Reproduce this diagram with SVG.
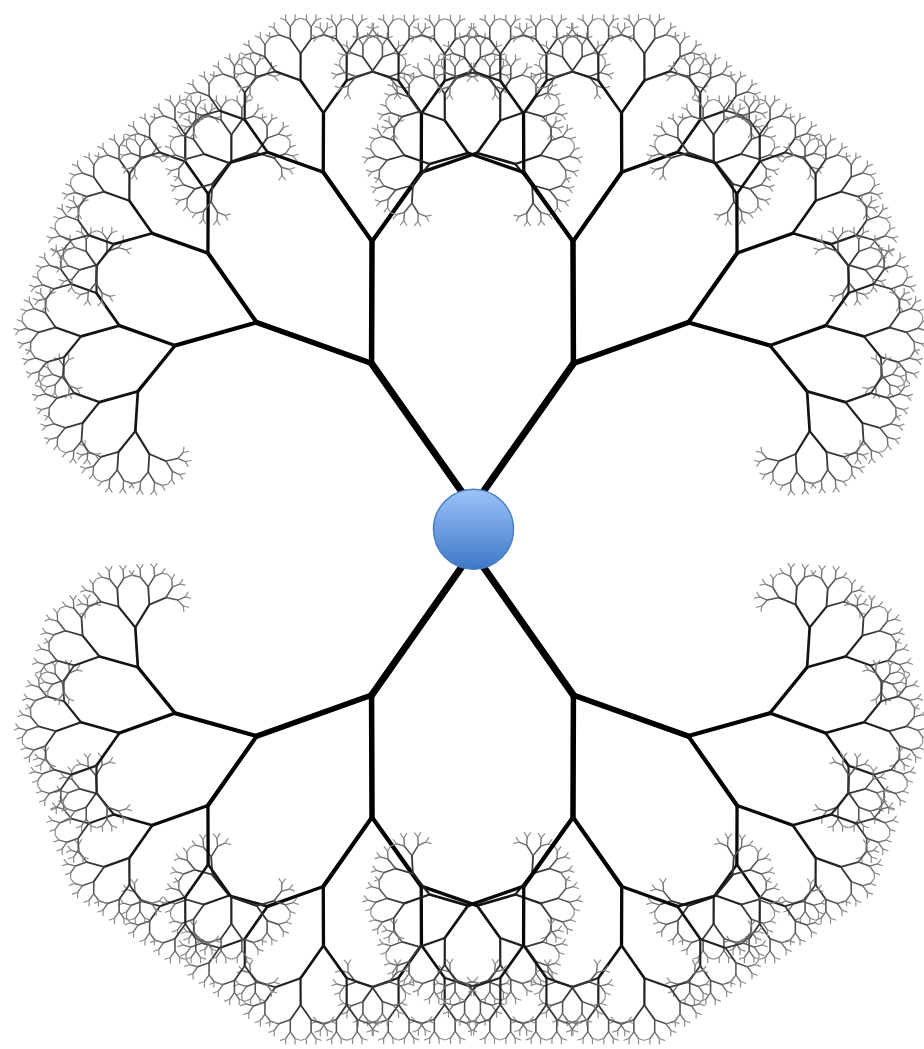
<svg xmlns="http://www.w3.org/2000/svg" xmlns:xlink="http://www.w3.org/1999/xlink" width="924" height="1049" viewBox="0 0 924 1049">
<style>
line{vector-effect:non-scaling-stroke;stroke-linecap:round;fill:none}
.s1{stroke:#000;stroke-width:7}
.s2{stroke:#000;stroke-width:5.5}
.s3{stroke:#000;stroke-width:4.2}
.s4{stroke:#080808;stroke-width:3.3}
.s5{stroke:#121212;stroke-width:2.7}
.s6{stroke:#222;stroke-width:2.2}
.s7{stroke:#383838;stroke-width:1.8}
.s8{stroke:#525252;stroke-width:1.55}
.s9{stroke:#6e6e6e;stroke-width:1.35}
.s10{stroke:#8c8c8c;stroke-width:1.2}
</style>
<defs>
<linearGradient id="ballGrad" x1="0" y1="0" x2="0" y2="1">
<stop offset="0" stop-color="#9cc3fb"/>
<stop offset="1" stop-color="#3d78c6"/>
</linearGradient>
<g id="b10"><line class="s10" x1="0" y1="0" x2="0" y2="-100"/></g>
<g id="b9"><line class="s9" x1="0" y1="0" x2="0" y2="-100"/><use xlink:href="#b10" transform="translate(0,-100) rotate(-35.3) scale(0.672)"/><use xlink:href="#b10" transform="translate(0,-100) rotate(35.3) scale(0.672)"/></g>
<g id="b8"><line class="s8" x1="0" y1="0" x2="0" y2="-100"/><use xlink:href="#b9" transform="translate(0,-100) rotate(-35.3) scale(0.672)"/><use xlink:href="#b9" transform="translate(0,-100) rotate(35.3) scale(0.672)"/></g>
<g id="b7"><line class="s7" x1="0" y1="0" x2="0" y2="-100"/><use xlink:href="#b8" transform="translate(0,-100) rotate(-35.3) scale(0.672)"/><use xlink:href="#b8" transform="translate(0,-100) rotate(35.3) scale(0.672)"/></g>
<g id="b6"><line class="s6" x1="0" y1="0" x2="0" y2="-100"/><use xlink:href="#b7" transform="translate(0,-100) rotate(-35.3) scale(0.672)"/><use xlink:href="#b7" transform="translate(0,-100) rotate(35.3) scale(0.672)"/></g>
<g id="b5"><line class="s5" x1="0" y1="0" x2="0" y2="-100"/><use xlink:href="#b6" transform="translate(0,-100) rotate(-35.3) scale(0.672)"/><use xlink:href="#b6" transform="translate(0,-100) rotate(35.3) scale(0.672)"/></g>
<g id="b4"><line class="s4" x1="0" y1="0" x2="0" y2="-100"/><use xlink:href="#b5" transform="translate(0,-100) rotate(-35.3) scale(0.675)"/><use xlink:href="#b5" transform="translate(0,-100) rotate(35.3) scale(0.675)"/></g>
<g id="b3"><line class="s3" x1="0" y1="0" x2="0" y2="-100"/><use xlink:href="#b4" transform="translate(0,-100) rotate(-35.3) scale(0.697)"/><use xlink:href="#b4" transform="translate(0,-100) rotate(35.3) scale(0.697)"/></g>
<g id="b2"><line class="s2" x1="0" y1="0" x2="0" y2="-100"/><use xlink:href="#b3" transform="translate(0,-100) rotate(-35.3) scale(0.695)"/><use xlink:href="#b3" transform="translate(0,-100) rotate(35.3) scale(0.695)"/></g>
<g id="b1"><line class="s1" x1="0" y1="0" x2="0" y2="-100"/><use xlink:href="#b2" transform="translate(0,-100) rotate(-35.3) scale(0.695)"/><use xlink:href="#b2" transform="translate(0,-100) rotate(35.3) scale(0.695)"/></g>
</defs>
<g id="connectors">
<use xlink:href="#b1" transform="translate(472.5,507) rotate(-35.1) scale(1.755)"/>
<use xlink:href="#b1" transform="translate(472.5,507) rotate(35.1) scale(1.755)"/>
<use xlink:href="#b1" transform="translate(472.5,551.6) rotate(215.1) scale(1.755)"/>
<use xlink:href="#b1" transform="translate(472.5,551.6) rotate(144.9) scale(1.755)"/>
</g>
<g id="center-node">
<circle cx="473.5" cy="529.3" r="40" fill="url(#ballGrad)" stroke="#4a7fc0" stroke-width="1.5"/>
</g>
</svg>
